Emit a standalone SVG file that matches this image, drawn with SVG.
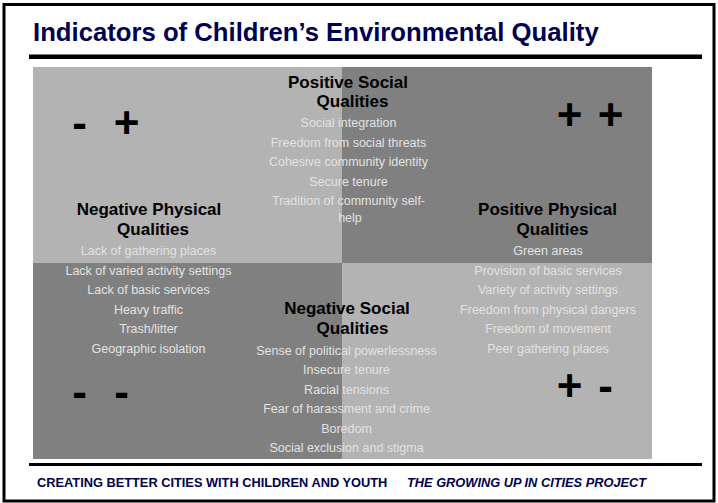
<svg xmlns="http://www.w3.org/2000/svg" width="718" height="503" viewBox="0 0 718 503">
<style>
.title{font-family:"Liberation Sans",Arial,sans-serif;font-weight:bold;font-size:25.7px;fill:#000050}
.foot{font-family:"Liberation Sans",Arial,sans-serif;font-weight:bold;font-size:12.8px;fill:#000050}
.hd{font-family:"Liberation Sans",Arial,sans-serif;font-weight:bold;font-size:17px;fill:#000;text-anchor:middle}
.it{font-family:"Liberation Sans",Arial,sans-serif;font-size:12.5px;fill:#e2e2e2;text-anchor:middle}
.sg{font-family:"Liberation Sans",Arial,sans-serif;font-weight:bold;font-size:44px;fill:#000}
.lt{fill:#b3b3b3}
.dk{fill:#808080}
</style>
<rect x="0" y="0" width="718" height="503" fill="#fff"/>
<rect x="4" y="4.5" width="710" height="496.5" fill="none" stroke="#000" stroke-width="3"/>
<text class="title" x="33" y="41">Indicators of Children’s Environmental Quality</text>
<rect x="29" y="54.5" width="673" height="4.5" fill="#000"/>
<g id="quadrants">
<rect class="lt" x="33" y="67" width="309" height="196"/>
<rect class="dk" x="342" y="67" width="310" height="196"/>
<rect class="dk" x="33" y="263" width="309" height="196"/>
<rect class="lt" x="342" y="263" width="310" height="196"/>
</g>
<g id="connectors"/>
<g id="positive-social">
<text class="hd" x="348" y="88">Positive Social</text>
<text class="hd" x="352.5" y="107">Qualities</text>
<text class="it" x="348.5" y="127">Social integration</text>
<text class="it" x="348.5" y="146.5">Freedom from social threats</text>
<text class="it" x="348.5" y="166">Cohesive community identity</text>
<text class="it" x="348.5" y="185.5">Secure tenure</text>
<text class="it" x="348.5" y="205">Tradition of community self-</text>
<text class="it" x="350" y="222">help</text>
</g>
<g id="negative-physical">
<text class="hd" x="149" y="214.5">Negative Physical</text>
<text class="hd" x="153" y="234.5">Qualities</text>
<text class="it" x="148.5" y="255">Lack of gathering places</text>
<text class="it" x="148.5" y="274.5">Lack of varied activity settings</text>
<text class="it" x="148.5" y="294">Lack of basic services</text>
<text class="it" x="148.5" y="313.5">Heavy traffic</text>
<text class="it" x="148.5" y="333">Trash/litter</text>
<text class="it" x="148.5" y="352.5">Geographic isolation</text>
</g>
<g id="positive-physical">
<text class="hd" x="547.5" y="214.5">Positive Physical</text>
<text class="hd" x="552.5" y="234.5">Qualities</text>
<text class="it" x="548" y="255">Green areas</text>
<text class="it" x="548" y="274.5">Provision of basic services</text>
<text class="it" x="548" y="294">Variety of activity settings</text>
<text class="it" x="548" y="313.5">Freedom from physical dangers</text>
<text class="it" x="548" y="333">Freedom of movement</text>
<text class="it" x="548" y="352.5">Peer gathering places</text>
</g>
<g id="negative-social">
<text class="hd" x="347" y="314">Negative Social</text>
<text class="hd" x="352.5" y="333.5">Qualities</text>
<text class="it" x="346.5" y="354.5">Sense of political powerlessness</text>
<text class="it" x="346.5" y="374">Insecure tenure</text>
<text class="it" x="346.5" y="393.5">Racial tensions</text>
<text class="it" x="346.5" y="413">Fear of harassment and crime</text>
<text class="it" x="346.5" y="432.5">Boredom</text>
<text class="it" x="346.5" y="452">Social exclusion and stigma</text>
</g>
<g id="sign-tl"><text class="sg" y="137.5"><tspan x="72.3">-</tspan><tspan x="113.7">+</tspan></text></g>
<g id="sign-tr"><text class="sg" y="129.5"><tspan x="556.7">+</tspan><tspan x="597.7">+</tspan></text></g>
<g id="sign-bl"><text class="sg" y="407.2"><tspan x="72.3">-</tspan><tspan x="114.3">-</tspan></text></g>
<g id="sign-br"><text class="sg" y="400.5"><tspan x="556.7">+</tspan><tspan x="598.3">-</tspan></text></g>
<rect x="29" y="463" width="673" height="3" fill="#000"/>
<text class="foot" x="37" y="487">CREATING BETTER CITIES WITH CHILDREN AND YOUTH</text>
<text class="foot" x="407" y="487" font-style="italic">THE GROWING UP IN CITIES PROJECT</text>
</svg>
